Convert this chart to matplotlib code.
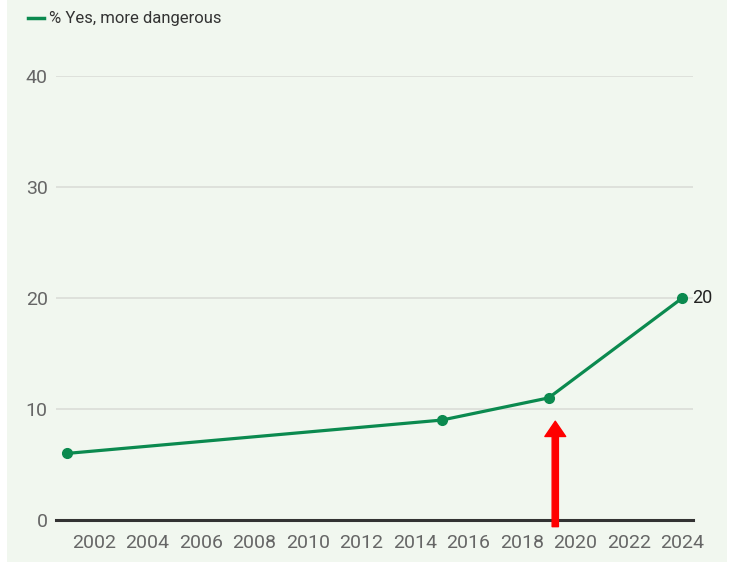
import matplotlib
matplotlib.use('Agg')
import matplotlib.pyplot as plt
from matplotlib.patches import Rectangle

# data
years = [2001, 2015, 2019, 2024]
pct_more_dangerous = [6, 9, 11, 20]
x_ticks = list(range(2002, 2025, 2))
y_ticks = [0, 10, 20, 30, 40]
series_label = '% Yes, more dangerous'
arrow_year = 2019.25

GREEN = '#0b8a4f'
BG = '#f1f7ef'
plt.rcParams['font.family'] = ['Roboto', 'DejaVu Sans']

fig = plt.figure(figsize=(7.31, 5.62), dpi=100)
fig.patch.set_facecolor('white')
fig.patches.append(Rectangle((7 / 731, 0), 720 / 731, 1, transform=fig.transFigure,
                             facecolor=BG, edgecolor='none', zorder=-10))

ax = fig.add_axes([56 / 731, 42 / 562, 637 / 731, 444 / 562])
ax.set_facecolor('none')
ax.set_xlim(2000.58, 2024.4)
ax.set_ylim(0, 40)

for s in ax.spines.values():
    s.set_visible(False)

# gridlines
for v in y_ticks[1:]:
    ax.axhline(v, color='#dcdfd9', lw=1.3, zorder=1)
ax.axhline(0, color='#333333', lw=2.2, zorder=2, clip_on=False)

ax.plot(years, pct_more_dangerous, color=GREEN, lw=2.3, marker='o', ms=7,
        zorder=4, clip_on=False)
ax.text(years[-1] + 0.38, pct_more_dangerous[-1], str(pct_more_dangerous[-1]),
        fontsize=13, color='#222222', va='center', ha='left')

ax.set_xticks(x_ticks)
ax.set_yticks(y_ticks)
ax.tick_params(axis='both', length=0, labelsize=14, labelcolor='#666666')
ax.tick_params(axis='x', pad=10)
ax.tick_params(axis='y', pad=6)

# red arrow
ax.annotate('', xy=(arrow_year, 8.9), xytext=(arrow_year, -0.6),
            arrowprops=dict(facecolor='#ff0000', edgecolor='#ff0000', width=4.5,
                            headwidth=15, headlength=11, shrink=0),
            annotation_clip=False, zorder=5)

# legend
fig.lines.append(plt.Line2D([28 / 731, 44 / 731], [1 - 18 / 562, 1 - 18 / 562],
                            transform=fig.transFigure, color=GREEN, lw=2.5))
fig.text(49 / 731, 1 - 18 / 562, series_label, fontsize=12, color='#333333',
         va='center', ha='left')

fig.savefig('out.png', dpi=100, facecolor=fig.get_facecolor())
